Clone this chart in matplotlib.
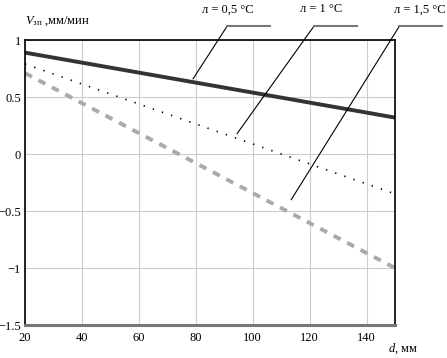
import matplotlib.pyplot as plt

plt.rcParams['font.family'] = ['Liberation Serif', 'DejaVu Serif']
plt.rcParams['mathtext.fontset'] = 'custom'
plt.rcParams['mathtext.rm'] = 'Liberation Serif'
plt.rcParams['mathtext.it'] = 'Liberation Serif:italic'

# data
d = [20, 150]
v_05 = [0.89, 0.32]
v_10 = [0.79, -0.35]
v_15 = [0.71, -1.0]

labels = ["л = 0,5 °C", "л = 1 °C", "л = 1,5 °C"]
# leader lines: (point on curve, knee, end of horizontal bar)
leaders = [
    ((79, 0.66), (91, 1.123), (106, 1.123)),
    ((94.5, 0.18), (121.5, 1.123), (136.5, 1.123)),
    ((113.5, -0.40), (151.5, 1.123), (166.5, 1.123)),
]
label_x = [82, 116.5, 149.5]

fig = plt.figure(figsize=(4.47, 3.58), dpi=100)
ax = fig.add_axes([0.056, 0.092, 0.828, 0.796])

ax.plot(d, v_05, color='#333333', lw=2.8, solid_capstyle='butt')
ax.plot(d, v_10, color='black', lw=1.2, ls=(0, (0.8, 5)))
ax.plot(d, v_15, color='#aaaaaa', lw=2.8, ls=(0, (2.0, 1.9)))

ax.set_xlim(20, 150)
ax.set_ylim(-1.5, 1)
ax.set_xticks([20, 40, 60, 80, 100, 120, 140])
ax.set_yticks([-1.5, -1, -0.5, 0, 0.5, 1])
ax.set_yticklabels(['\u22121.5', '\u22121', '\u22120.5', '0', '0.5', '1'])
ax.grid(True, color='#cccccc', lw=0.8)
ax.set_axisbelow(True)
ax.tick_params(length=0, labelsize=9, pad=3)
ax.tick_params(axis='x', pad=5)

for s in ['left', 'top', 'right']:
    ax.spines[s].set_color('black')
    ax.spines[s].set_linewidth(1.2)
ax.spines['bottom'].set_color('#777777')
ax.spines['bottom'].set_linewidth(2.2)

for (p, k, e), lab, lx in zip(leaders, labels, label_x):
    ax.plot([p[0], k[0]], [p[1], k[1]], color='black', lw=0.8, clip_on=False)
    ax.plot([k[0], e[0]], [k[1], e[1]], color='#777777', lw=1.5, clip_on=False)
    ax.text(lx, 1.27, lab, fontsize=9, ha='left', va='center', clip_on=False)

fig.text(0.056, 0.94, r'$\mathit{V}_{\mathrm{зп}}$ ,мм/мин', fontsize=9, ha='left', va='center')
fig.text(0.935, 0.025, r'$\mathit{d}$, мм', fontsize=9, ha='right', va='center')

fig.savefig('out.png', dpi=100)
